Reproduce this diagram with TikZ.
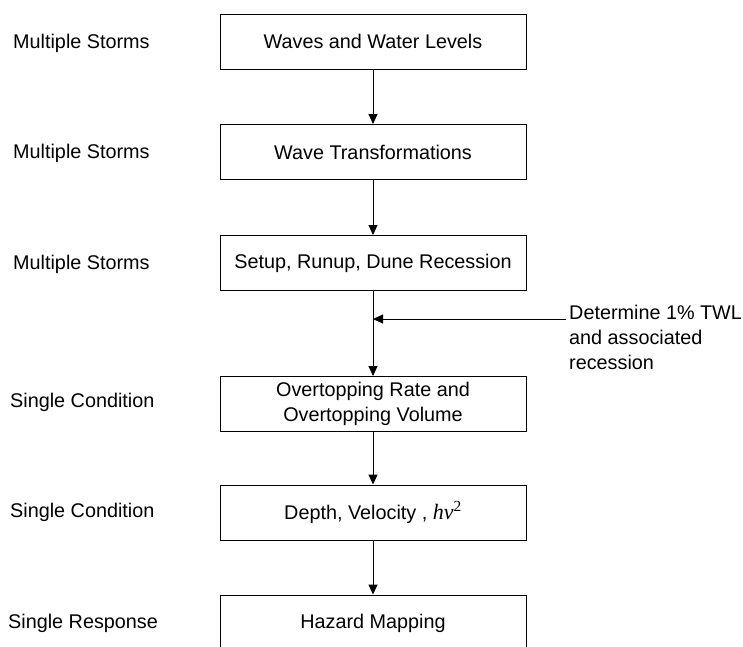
\documentclass[tikz,border=0pt]{standalone}
\usepackage{fontspec}
\setmainfont{Liberation Sans}
\newfontfamily\tnr{Liberation Serif}
\usetikzlibrary{arrows.meta}
\begin{document}
\begin{tikzpicture}[x=1pt,y=-1pt,
  every node/.style={font=\fontsize{19.8}{25}\selectfont, inner sep=0pt},
  stagebox/.style={draw=black, line width=1pt, minimum width=306pt, minimum height=55pt, align=center},
  sidelabel/.style={anchor=west},
  flow/.style={draw=black, line width=1pt, -{Triangle[length=10pt,width=9pt]}}]
\useasboundingbox (0,0) rectangle (743,646);
\clip (0,0) rectangle (743,646);
\node[stagebox] (b1) at (373,41.5) {Waves and Water Levels};
\node[stagebox] (b2) at (373,152) {Wave Transformations};
\node[stagebox] (b3) at (373,263) {Setup, Runup, Dune Recession};
\node[stagebox] (b4) at (373,404) {Overtopping Rate and\\Overtopping Volume};
\node[stagebox] (b5) at (373,512.5) {Depth, Velocity , {\tnr\fontsize{22}{25}\selectfont\itshape hv}{\tnr\fontsize{22}{25}\selectfont\textsuperscript{2}}};
\node[stagebox] (b6) at (373,622.5) {};
\node (t6) at (373,623) {Hazard Mapping};
\node[sidelabel] (l1) at (13,43.5) {Multiple Storms};
\node[sidelabel] (l2) at (13,153.5) {Multiple Storms};
\node[sidelabel] (l3) at (13,264.5) {Multiple Storms};
\node[sidelabel] (l4) at (10,402.5) {Single Condition};
\node[sidelabel] (l5) at (10,512.5) {Single Condition};
\node[sidelabel] (l6) at (8,623.5) {Single Response};
\node[anchor=north west, align=left] (note) at (569,305) {Determine 1\% TWL\\and associated\\recession};
\coordinate (ns) at (566,319);
\coordinate (ne) at (373,319);
\draw[flow] (b1.south) -- (b2.north);
\draw[flow] (b2.south) -- (b3.north);
\draw[flow] (b3.south) -- (b4.north);
\draw[flow] (b4.south) -- (b5.north);
\draw[flow] (b5.south) -- (b6.north);
\draw[flow] (ns) -- (ne);
\end{tikzpicture}
\end{document}
